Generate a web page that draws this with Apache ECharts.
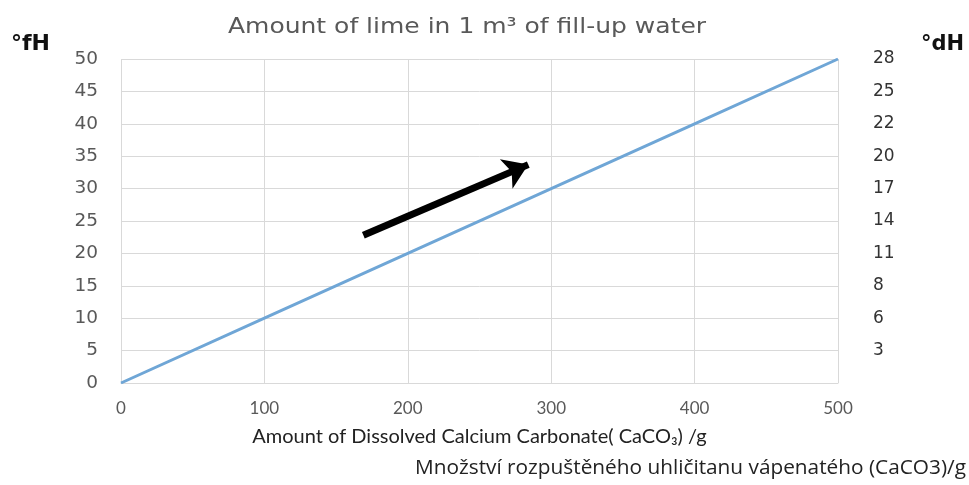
<!DOCTYPE html>
<html>
<head>
<meta charset="utf-8">
<script src="https://cdn.jsdelivr.net/npm/echarts@6/dist/echarts.min.js"></script>
<style>html,body{margin:0;padding:0;background:#fff;}#c{width:969px;height:485px;}</style>
</head>
<body>
<div id="c"></div>
<script>
var xValues = [0, 100, 200, 300, 400, 500];
var fHValues = [0, 10, 20, 30, 40, 50];
var dHLabels = ['', '3', '6', '8', '11', '14', '17', '20', '22', '25', '28'];
var arrowStart = [169, 22.8];
var arrowEnd = [284, 33.7];
var titleText = 'Amount of lime in 1 m\u00b3 of fill-up water';
var bottomText = 'Množství rozpuštěného uhličitanu vápenatého (CaCO3)/g';

var chart = echarts.init(document.getElementById('c'));
var lato = 'Lato, sans-serif';
var dejavu = '"DejaVu Sans", sans-serif';
chart.setOption({
  backgroundColor: '#fff',
  animation: false,
  graphic: [
    { type: 'text', x: 467, y: 28, scaleX: 1.19, silent: true,
      style: { text: titleText, font: 'normal 21px "DejaVu Sans", sans-serif', fill: '#595959',
        align: 'center', verticalAlign: 'middle' } },
    { type: 'text', x: 415, y: 468, silent: true,
      style: { text: bottomText, font: 'normal 20.8px "Open Sans", sans-serif', fill: '#222',
        align: 'left', verticalAlign: 'middle' } },
    { type: 'text', x: 50, y: 44, silent: true,
      style: { text: '\u00b0fH', font: 'bold 22px "DejaVu Sans", sans-serif', fill: '#111',
        align: 'right', verticalAlign: 'middle' } },
    { type: 'text', x: 921, y: 45, silent: true,
      style: { text: '\u00b0dH', font: 'bold 21px "DejaVu Sans", sans-serif', fill: '#111',
        align: 'left', verticalAlign: 'middle' } }
  ],
  grid: { left: 121, right: 131, top: 59, bottom: 102 },
  xAxis: {
    type: 'value', min: 0, max: 500, interval: 100,
    name: 'Amount of Dissolved Calcium Carbonate( CaCO\u2083) /g',
    nameLocation: 'middle', nameGap: 44,
    nameTextStyle: { fontFamily: lato, fontSize: 20, color: '#222' },
    axisLine: { lineStyle: { color: '#d9d9d9' } },
    axisTick: { show: false },
    axisLabel: { fontFamily: lato, fontSize: 17, color: '#595959', margin: 17 },
    splitLine: { show: true, lineStyle: { color: '#d9d9d9' } }
  },
  yAxis: [
    { type: 'value', min: 0, max: 50, interval: 5, position: 'left',
      axisLine: { show: false }, axisTick: { show: false },
      axisLabel: { fontFamily: dejavu, fontSize: 18.5, color: '#595959', margin: 23 },
      splitLine: { show: true, lineStyle: { color: '#d9d9d9' } } },
    { type: 'value', min: 0, max: 50, interval: 5, position: 'right',
      axisLine: { show: false }, axisTick: { show: false },
      axisLabel: { fontFamily: dejavu, fontSize: 17, color: '#333', margin: 35, align: 'left',
        formatter: function (v) { return dHLabels[Math.round(v / 5)] || ''; } },
      splitLine: { show: false } }
  ],
  series: [
    { type: 'line', data: xValues.map(function (x, i) { return [x, fHValues[i]]; }),
      showSymbol: false, symbol: 'none',
      lineStyle: { color: '#6fa6d6', width: 3 },
      markLine: {
        silent: true, symbol: ['none', 'arrow'], symbolSize: 24,
        lineStyle: { color: '#000', width: 7, type: 'solid' },
        label: { show: false },
        data: [[{ coord: arrowStart }, { coord: arrowEnd }]]
      } }
  ]
});
</script>
</body>
</html>
